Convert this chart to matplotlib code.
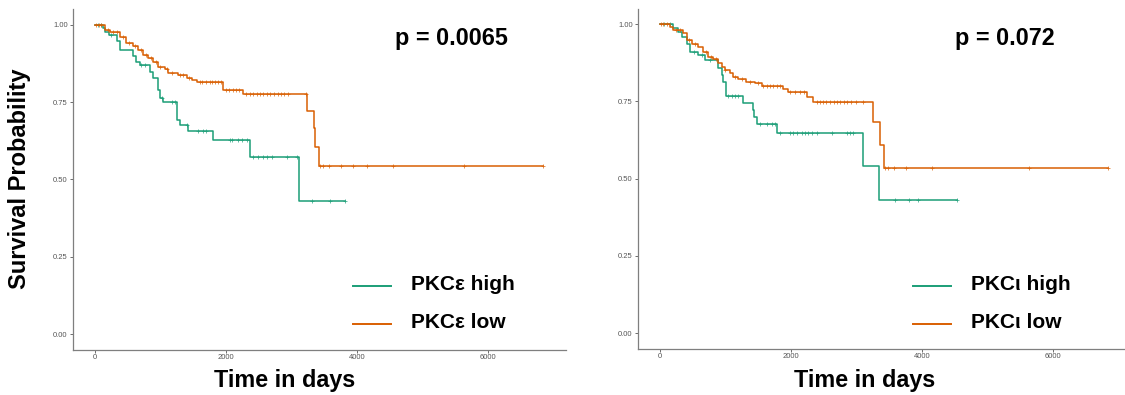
import numpy as np
import matplotlib
matplotlib.use("Agg")
import matplotlib.pyplot as plt

plt.rcParams['font.family'] = ['Liberation Sans', 'DejaVu Sans']

W, H = 1125, 395
GREEN = '#1b9e77'
ORANGE = '#d95f02'

# --- PKC epsilon ---
eps_high_t = [0, 120, 160, 210, 330, 380, 580, 620, 680, 840, 880, 960, 990, 1040,
              1250, 1300, 1420, 1800, 2360, 3110]
eps_high_s = [1.0, 0.989, 0.978, 0.968, 0.946, 0.919, 0.898, 0.881, 0.871, 0.846,
              0.827, 0.790, 0.763, 0.750, 0.693, 0.677, 0.655, 0.628, 0.574, 0.431]
eps_high_end = 3818
eps_high_cens = [40, 90, 250, 700, 760, 1030, 1170, 1220, 1400, 1580, 1650, 1700, 2060,
                 2090, 2190, 2240, 2320, 2420, 2490, 2570, 2620, 2700, 2930, 3080,
                 3320, 3590, 3818]

eps_low_t = [0, 150, 230, 380, 480, 585, 660, 740, 815, 890, 965, 1070, 1120, 1270,
             1400, 1475, 1550, 1950, 2255, 3243, 3349, 3365, 3426]
eps_low_s = [1.0, 0.984, 0.978, 0.962, 0.941, 0.930, 0.919, 0.903, 0.892, 0.881,
             0.865, 0.857, 0.844, 0.836, 0.828, 0.820, 0.814, 0.790, 0.777, 0.720,
             0.666, 0.605, 0.544]
eps_low_end = 6845
eps_low_cens = [20, 55, 90, 200, 270, 330, 430, 520, 610, 700, 780, 850, 930, 1000,
                1100, 1180, 1300, 1350, 1440, 1600, 1640, 1700, 1750, 1790, 1830,
                1880, 1920, 2000, 2040, 2110, 2160, 2200, 2310, 2360, 2420, 2470,
                2520, 2570, 2630, 2680, 2730, 2790, 2840, 2890, 2950, 3220,
                3436, 3487, 3578, 3757, 3945, 4150, 4546, 5640, 6845]

# --- PKC iota ---
iota_high_t = [0, 200, 280, 330, 410, 460, 585, 690, 890, 940, 967, 1008, 1262, 1415,
               1436, 1486, 1791, 3105, 3349]
iota_high_s = [1.0, 0.986, 0.975, 0.959, 0.937, 0.910, 0.900, 0.883, 0.857, 0.835,
               0.813, 0.767, 0.745, 0.722, 0.700, 0.676, 0.648, 0.540, 0.430]
iota_high_end = 4540
iota_high_cens = [60, 150, 520, 640, 760, 1044, 1094, 1145, 1196, 1527, 1629, 1705,
                  1756, 1832, 1985, 2036, 2087, 2163, 2214, 2265, 2316, 2392, 2622,
                  2851, 2902, 2953, 3589, 3807, 3945, 4540]

iota_low_t = [0, 150, 205, 355, 405, 485, 585, 660, 740, 815, 890, 940, 990, 1070,
              1120, 1195, 1320, 1450, 1550, 1880, 1960, 2250, 2341, 3248, 3359, 3420]
iota_low_s = [1.0, 0.991, 0.981, 0.970, 0.948, 0.937, 0.927, 0.910, 0.894, 0.886,
              0.875, 0.862, 0.851, 0.840, 0.830, 0.821, 0.813, 0.808, 0.799, 0.789,
              0.781, 0.763, 0.749, 0.684, 0.607, 0.533]
iota_low_end = 6846
iota_low_cens = [15, 45, 100, 250, 300, 440, 540, 700, 780, 860, 1000, 1150, 1250,
                 1380, 1500, 1580, 1630, 1680, 1730, 1780, 1830, 1990, 2060, 2140,
                 2200, 2390, 2440, 2490, 2540, 2600, 2650, 2700, 2750, 2810, 2860,
                 2910, 3000, 3100, 3436, 3487, 3578, 3757, 4148, 5640, 6846]

panels = [
    dict(rect=(72.6, 349.5, 493.1, 340.2),
         high=(eps_high_t, eps_high_s, eps_high_end, eps_high_cens),
         low=(eps_low_t, eps_low_s, eps_low_end, eps_low_cens),
         p='p = 0.0065', p_xy=(451, 38),
         labels=('PKC\u03b5 high', 'PKC\u03b5 low'), leg_x=352.7, xlab_x=285),
    dict(rect=(637.6, 348.5, 493.1, 339.9),
         high=(iota_high_t, iota_high_s, iota_high_end, iota_high_cens),
         low=(iota_low_t, iota_low_s, iota_low_end, iota_low_cens),
         p='p = 0.072', p_xy=(1005, 38),
         labels=('PKC\u03b9 high', 'PKC\u03b9 low'), leg_x=912.7, xlab_x=865),
]

fig = plt.figure(figsize=(W / 100, H / 100), dpi=100)


def fx(px):
    return px / W


def fy(py):
    return 1 - py / H


def draw_curve(ax, t, s, end, cens, color):
    tt = list(t) + [end]
    ss = list(s) + [s[-1]]
    ax.step(tt, ss, where='post', color=color, lw=1.1)
    idx = np.searchsorted(t, cens, side='right') - 1
    cy = np.array(s)[idx]
    ax.plot(cens, cy, ls='none', marker='+', ms=3, mew=0.6, color=color, alpha=0.8)


for p in panels:
    l, b, w, h = p['rect']
    ax = fig.add_axes([fx(l), fy(b), w / W, h / H])
    draw_curve(ax, *p['high'], GREEN)
    draw_curve(ax, *p['low'], ORANGE)
    xmax = 6846
    ax.set_xlim(-0.05 * xmax, 1.05 * xmax)
    ax.set_ylim(-0.05, 1.05)
    ax.set_xticks([0, 2000, 4000, 6000])
    ax.set_yticks([0, 0.25, 0.5, 0.75, 1.0])
    ax.set_yticklabels(['0.00', '0.25', '0.50', '0.75', '1.00'])
    for side in ('top', 'right'):
        ax.spines[side].set_visible(False)
    for side in ('left', 'bottom'):
        ax.spines[side].set_color('#7f7f7f')
        ax.spines[side].set_linewidth(0.9)
    ax.tick_params(labelsize=5.5, colors='#555555', length=2, width=0.6, pad=1.5)

    fig.text(fx(p['p_xy'][0]), fy(p['p_xy'][1]), p['p'], fontsize=16.8,
             fontweight='bold', ha='center', va='center')

    # legend
    lx = p['leg_x']
    for yy, col, lab in [(285.7, GREEN, p['labels'][0]), (323.5, ORANGE, p['labels'][1])]:
        fig.add_artist(plt.Line2D([fx(lx), fx(lx + 38)], [fy(yy), fy(yy)],
                                  color=col, lw=1.4, transform=fig.transFigure))
        fig.text(fx(lx + 58), fy(yy - 1), lab, fontsize=15, fontweight='bold',
                 ha='left', va='center')

    fig.text(fx(p['xlab_x']), fy(380), 'Time in days', fontsize=16.8,
             fontweight='bold', ha='center', va='center')

fig.text(fx(20), fy(179), 'Survival Probability', fontsize=17, fontweight='bold',
         rotation=90, ha='center', va='center')

fig.savefig('out.png', dpi=100)
